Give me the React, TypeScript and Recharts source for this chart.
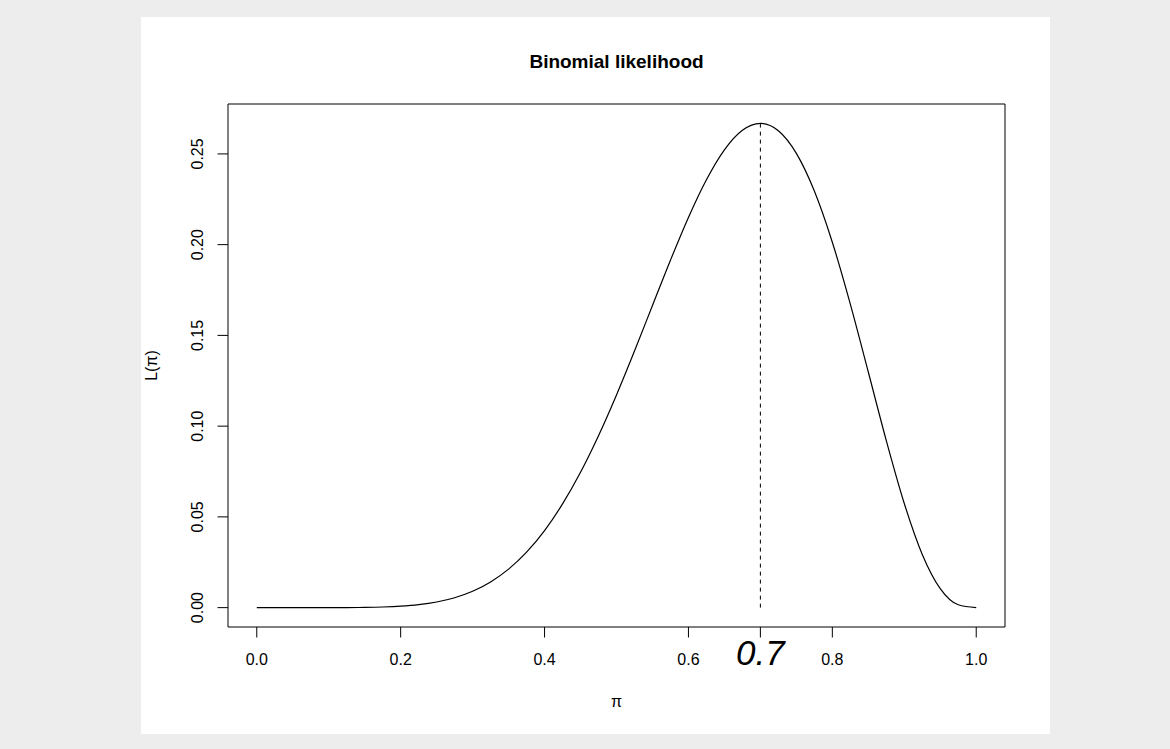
import React from 'react';
import { LineChart, Line, XAxis, YAxis, ReferenceLine, ReferenceArea } from 'recharts';

// likelihood curve, sampled every 0.025 along pi
const piValues = [
  0, 0.025, 0.05, 0.075, 0.1, 0.125, 0.15, 0.175, 0.2, 0.225, 0.25, 0.275, 0.3, 0.325, 0.35, 0.375, 0.4,
  0.425, 0.45, 0.475, 0.5, 0.525, 0.55, 0.575, 0.6, 0.625, 0.65, 0.675, 0.7, 0.725, 0.75, 0.775, 0.8,
  0.825, 0.85, 0.875, 0.9, 0.925, 0.95, 0.975, 1,
];
const likelihood = [
  0, 0, 0, 0, 0.0000088, 0.0000383, 0.000126, 0.000339, 0.000786, 0.00163, 0.00309, 0.00544, 0.0090,
  0.01414, 0.0212, 0.03055, 0.04247, 0.05714, 0.0746, 0.09474, 0.11719, 0.14138, 0.16648, 0.19143,
  0.21499, 0.23574, 0.25222, 0.263, 0.26683, 0.26275, 0.25028, 0.22953, 0.20133, 0.16728, 0.12983,
  0.09204, 0.0574, 0.02933, 0.01048, 0.00157, 0,
];

const xTicks = [0, 0.2, 0.4, 0.6, 0.7, 0.8, 1.0];
const yTicks = [0, 0.05, 0.1, 0.15, 0.2, 0.25];
const mle = 0.7;
const mleValue = 0.26683;

const xDomain: [number, number] = [-0.04, 1.04];
const yDomain: [number, number] = [-0.01067, 0.27750];

const FONT = '"Liberation Sans", Arial, Helvetica, sans-serif';
const W = 909;
const H = 717;

const data = piValues.map((p, i) => ({ pi: p, L: likelihood[i] }));

const XTick = (props: any) => {
  const { x, y, payload } = props;
  const v = payload.value;
  const big = Math.abs(v - mle) < 1e-9;
  return (
    <text
      x={x}
      y={y + 27.5}
      textAnchor="middle"
      fontFamily={FONT}
      fontSize={big ? 35 : 16}
      fontStyle={big ? 'italic' : 'normal'}
      fill="#000"
    >
      {v.toFixed(1)}
    </text>
  );
};

const YTick = (props: any) => {
  const { x, y, payload } = props;
  const tx = x - 14.5;
  return (
    <text
      x={tx}
      y={y}
      transform={`rotate(-90 ${tx} ${y})`}
      textAnchor="middle"
      fontFamily={FONT}
      fontSize={16}
      fill="#000"
    >
      {payload.value.toFixed(2)}
    </text>
  );
};

export default function App() {
  return (
    <div style={{ position: 'absolute', left: 0, top: 0, width: 1170, height: 749, background: '#ededed' }}>
      <div style={{ position: 'absolute', left: 141, top: 17, width: W, height: H, background: '#fff' }}>
        <LineChart width={W} height={H} data={data} margin={{ top: 87, right: 45, bottom: 77, left: 27 }}>
          <XAxis
            dataKey="pi"
            type="number"
            domain={xDomain}
            allowDataOverflow
            ticks={xTicks}
            interval={0}
            tickSize={10.5}
            tickMargin={0}
            tickLine={{ stroke: '#000' }}
            axisLine={false}
            height={30}
            tick={<XTick />}
          />
          <YAxis
            type="number"
            domain={yDomain}
            allowDataOverflow
            ticks={yTicks}
            interval={0}
            tickSize={10.5}
            tickMargin={0}
            tickLine={{ stroke: '#000' }}
            axisLine={false}
            width={60}
            tick={<YTick />}
          />
          <ReferenceArea
            x1={xDomain[0]}
            x2={xDomain[1]}
            y1={yDomain[0]}
            y2={yDomain[1]}
            fill="none"
            fillOpacity={0}
            stroke="#000"
            strokeWidth={1}
            ifOverflow="visible"
          />
          <ReferenceLine
            segment={[{ x: mle, y: 0 }, { x: mle, y: mleValue }]}
            stroke="#000"
            strokeDasharray="4 4"
            strokeWidth={1}
          />
          <Line
            dataKey="L"
            type="monotone"
            stroke="#000"
            strokeWidth={1.2}
            dot={false}
            isAnimationActive={false}
          />
        </LineChart>
        <svg width={W} height={H} style={{ position: 'absolute', left: 0, top: 0, pointerEvents: 'none' }}>
          <text x={475.5} y={50.5} textAnchor="middle" fontFamily={FONT} fontWeight="bold" fontSize={19} fill="#000">
            Binomial likelihood
          </text>
          <text x={475.5} y={690} textAnchor="middle" fontFamily={FONT} fontSize={16} fill="#000">
            π
          </text>
          <text
            x={16}
            y={348.5}
            transform="rotate(-90 16 348.5)"
            textAnchor="middle"
            fontFamily={FONT}
            fontSize={16}
            fill="#000"
          >
            L(π)
          </text>
        </svg>
      </div>
    </div>
  );
}
